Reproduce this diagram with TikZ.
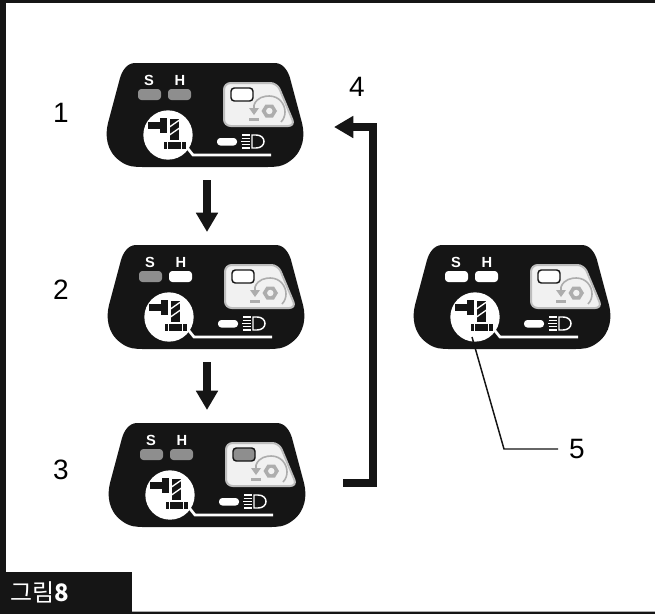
\documentclass[tikz,border=0pt]{standalone}
\usepackage{fontspec}
\setmainfont{Liberation Sans}
\newfontfamily\krfont{Noto Sans CJK KR}
\usetikzlibrary{arrows.meta, positioning}

\definecolor{panelblack}{HTML}{151515}
\definecolor{lampgrey}{HTML}{8E8E8E}
\definecolor{gearcol}{HTML}{ADADAD}
\definecolor{platecol}{HTML}{F1F1F1}
\definecolor{plateedge}{HTML}{BDBDBD}

\tikzset{
    num/.style={font=\fontsize{21}{21}\selectfont, inner sep=0pt},
    flow/.style={draw=panelblack, line width=5.6pt, -{Triangle[length=14.5pt,width=15.75pt]}},
    loopflow/.style={draw=panelblack, line width=5.4pt, -{Triangle[length=14.5pt,width=15.75pt]}},
    leader/.style={draw=panelblack, line width=1.1pt},
    letter/.style={font=\bfseries\fontsize{11}{11}\selectfont, text=white, inner sep=0pt},
}

% name, x, y, colour S, colour H, colour of the lamp
\newcommand{\drawpanel}[6]{
  \begin{scope}[shift={(#2,#3)}]
    \fill[panelblack] (-70,0) -- (70,0) .. controls (78,0) and (83,8) .. (85,15)
      -- (97,60) .. controls (100,72) and (99,88) .. (85,98)
      .. controls (77,104) and (70,104) .. (62,104) -- (-62,104)
      .. controls (-70,104) and (-77,104) .. (-85,98)
      .. controls (-99,88) and (-100,72) .. (-97,60) -- (-85,15)
      .. controls (-83,8) and (-78,0) .. (-70,0) -- cycle;
    \node[letter] (#1s) at (-56,17) {S};
    \node[letter] (#1h) at (-25,17) {H};
    \fill[#4, rounded corners=2.5pt] (-67,26) rectangle (-44,37);
    \fill[#5, rounded corners=2.5pt] (-37,26) rectangle (-14,37);
    % plate with the lamp
    \draw[fill=platecol, draw=plateedge, line width=1.5pt, rounded corners=5pt]
      (19,20) -- (72,20) -- (90,63) -- (19,63) -- cycle;
    \draw[fill=#6, draw=panelblack, line width=1.1pt, rounded corners=2.5pt] (26,25) rectangle (48,38);
    % nut and arrow
    \fill[gearcol] (56.5,48) -- (60.5,41.5) -- (68,41.5) -- (72,48) -- (68,54.5) -- (60.5,54.5) -- cycle;
    \fill[platecol] (64.3,48) circle[radius=2.4pt];
    \draw[gearcol, line width=1.2pt] (49,42) .. controls (52,34) and (60,33) .. (64.3,33)
      .. controls (74,33) and (80,41) .. (80,49) .. controls (80,52) and (79,56) .. (76,59);
    \draw[gearcol, line width=1.2pt] (49,42) -- (49,46);
    \fill[gearcol] (44,45) -- (54,45) -- (49,52) -- cycle;
    \fill[gearcol] (44,55) rectangle (54,57.5);
    % hub
    \fill[white] (-37,72) circle[radius=18.5pt];
    \draw[white, line width=2pt] (-20,82) -- (-12,92) -- (66,92);
    \fill[panelblack] (-57,59) rectangle (-44,66);
    \fill[panelblack] (-45,55) rectangle (-38,70);
    \fill[panelblack] (-35,56) rectangle (-26,77);
    \draw[white, line width=1pt] (-35.5,64) -- (-25.5,57);
    \draw[white, line width=1pt] (-35.5,72) -- (-25.5,65);
    \fill[panelblack] (-41,79) rectangle (-19,86);
    \fill[white] (-38,79) rectangle (-36.8,86);
    \fill[white] (-24.5,79) rectangle (-23.3,86);
    % head light
    \fill[white, rounded corners=2.5pt] (12,75) rectangle (32,82.5);
    \draw[white, line width=1.1pt] (47,72) -- (51,72) .. controls (56,72) and (59,75) .. (59,78.5)
      .. controls (59,82) and (56,85) .. (51,85) -- (47,85) -- cycle;
    \foreach \yy/\xx in {72/37, 75.2/36.5, 78.5/36, 81.8/36.5, 85/37}
      \draw[white, line width=0.9pt] (\xx,\yy) -- (45,\yy);
    \coordinate (#1-top) at (1,-13);
    \coordinate (#1-bot) at (1,117);
    \coordinate (#1-in) at (129,64);
    \coordinate (#1-out) at (136,60);
    \coordinate (#1-hub) at (-40,92);
  \end{scope}
}

\begin{document}
\begin{tikzpicture}[x=0.75pt, y=-0.75pt]
    \useasboundingbox (0,0) rectangle (655,614);
    \fill[white] (0,0) rectangle (655,614);

    % frame
    \fill[panelblack] (0,0) rectangle (655,3);
    \fill[panelblack] (0,0) rectangle (6,614);
    \fill[gearcol] (0,610.5) rectangle (655,612);
    \fill[panelblack] (0,612) rectangle (655,614);
    \node[fill=panelblack, minimum width=99pt, minimum height=30pt, inner sep=0pt, anchor=north west] (tag) at (0,572) {};
    \node[text=white, inner sep=0pt, anchor=west] (caption) at (10,592) {\fontsize{18}{18}\selectfont\krfont 그림\bfseries 8};

    \drawpanel{pone}{205}{63}{lampgrey}{lampgrey}{white}
    \drawpanel{ptwo}{206}{245}{lampgrey}{white}{white}
    \drawpanel{pthree}{207}{423}{lampgrey}{lampgrey}{lampgrey}
    \drawpanel{pfour}{512}{245}{white}{white}{white}

    \node[num] (n1) at (61,113) {1};
    \node[num] (n2) at (61,290) {2};
    \node[num] (n3) at (61,470) {3};
    \node[num] (n4) at (357,87) {4};
    \node[num] (n5) at (577,449) {5};

    \draw[flow] (pone-bot -| ptwo-top) -- (ptwo-top);
    \draw[flow] (ptwo-bot) -- (ptwo-bot |- pthree-top);

    \coordinate (turn) at (373,127);
    \draw[loopflow] (pthree-out) -| (turn) -- (pone-in);

    \coordinate (bend) at (504,449);
    \coordinate (leadend) at (558,449);
    \draw[leader] (pfour-hub) -- (bend) -- (leadend);
\end{tikzpicture}
\end{document}
